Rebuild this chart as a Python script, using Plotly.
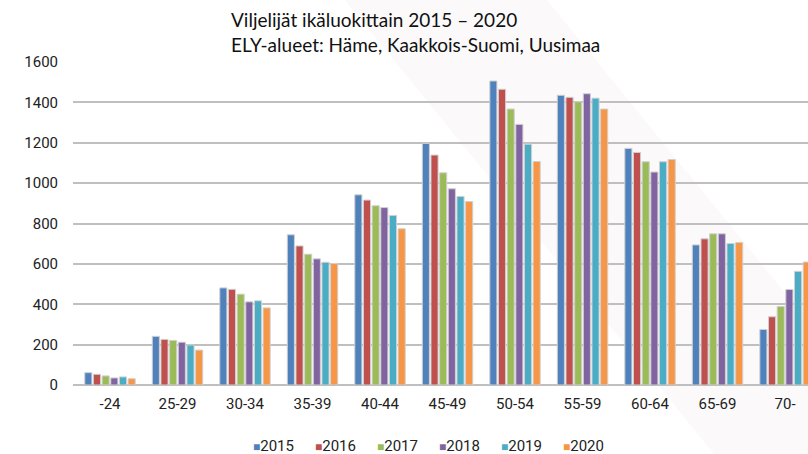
import plotly.graph_objects as go

categories = ["-24", "25-29", "30-34", "35-39", "40-44", "45-49", "50-54", "55-59", "60-64", "65-69", "70-"]
years = ["2015", "2016", "2017", "2018", "2019", "2020"]
v2015 = [61, 241, 481, 744, 942, 1197, 1506, 1435, 1172, 694, 275]
v2016 = [53, 226, 474, 689, 916, 1139, 1465, 1425, 1152, 724, 338]
v2017 = [45, 221, 450, 648, 888, 1051, 1367, 1403, 1106, 749, 389]
v2018 = [35, 212, 412, 625, 879, 972, 1291, 1443, 1055, 749, 473]
v2019 = [40, 198, 417, 608, 840, 934, 1193, 1421, 1106, 701, 563]
v2020 = [31, 173, 382, 602, 774, 909, 1107, 1367, 1117, 706, 609]
series = [v2015, v2016, v2017, v2018, v2019, v2020]
colors = ["#4F81BD", "#C0504D", "#9BBB59", "#8064A2", "#4BACC6", "#F79646"]

fig = go.Figure()
for y, vals, c in zip(years, series, colors):
    fig.add_trace(go.Bar(x=categories, y=vals, name=y, showlegend=False,
                         marker=dict(color=c, line=dict(color="#D0D0D0", width=1))))

W, H = 808, 454
ml, mt, mb = 73, 62, 69
pw = W - ml
ph = H - mt - mb


def px(x):
    return (x - ml) / pw


def py(y):
    return (H - mb - y) / ph


band = (f"M {px(345)},{py(0)} L {px(547)},{py(0)} L {px(808)},{py(321)} "
        f"L {px(808)},{py(454)} L {px(714)},{py(454)} Z")

annotations = [
    dict(text="Viljelijät ikäluokittain 2015 – 2020<br>ELY-alueet: Häme, Kaakkois-Suomi, Uusimaa",
         xref="paper", yref="paper", x=px(229), y=py(6),
         xanchor="left", yanchor="top", align="left", showarrow=False,
         font=dict(family="Lato", size=19, color="#111111")),
]
# legend entries: coloured square + year, spaced like the reference
leg_x0, leg_step = 251, 62
for i, (y, c) in enumerate(zip(years, colors)):
    annotations.append(dict(
        text=(f"<span style='color:{c};font-size:12px'>■</span>"
              f"<span style='font-size:15px;font-family:Roboto'>{y}</span>"),
        xref="paper", yref="paper", x=px(leg_x0 + i * leg_step), y=py(446),
        xanchor="left", yanchor="middle", showarrow=False,
        font=dict(family="Roboto", size=15, color="#222222")))

fig.update_layout(
    width=W, height=H,
    margin=dict(l=ml, r=0, t=mt, b=mb, autoexpand=False),
    paper_bgcolor="white", plot_bgcolor="rgba(0,0,0,0)",
    barmode="group", bargap=0.23, bargroupgap=0.18,
    font=dict(family="Roboto", size=15, color="#222222"),
    xaxis=dict(type="category", range=[-0.548, 10.34], showgrid=False, showline=False,
               ticks="", ticklabelstandoff=8, tickfont=dict(size=15, color="#222222")),
    yaxis=dict(range=[0, 1600], dtick=200, showgrid=True, gridcolor="#BFBFBF", gridwidth=1.5,
               zeroline=True, zerolinecolor="#BFBFBF", zerolinewidth=1.5, showline=False,
               ticks="", ticklabelstandoff=14, tickfont=dict(size=15, color="#222222")),
    showlegend=False,
    shapes=[dict(type="path", path=band, xref="paper", yref="paper", layer="below",
                 fillcolor="#FBF9FA", line=dict(width=0))],
    annotations=annotations,
)

fig.write_html("out.html", config={"displayModeBar": False},
               post_script="document.body.style.margin='0';document.body.style.overflow='hidden';")
